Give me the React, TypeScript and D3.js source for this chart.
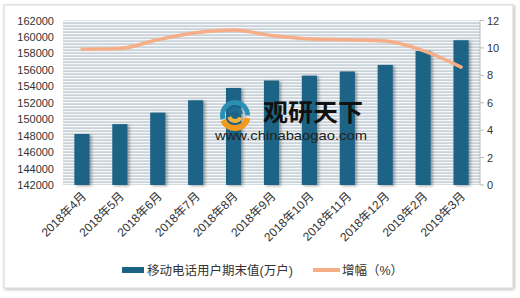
import React from "react";
import * as d3 from "d3";

const categories = ["2018年4月","2018年5月","2018年6月","2018年7月","2018年8月","2018年9月","2018年10月","2018年11月","2018年12月","2019年2月","2019年3月"];
const users = [148200, 149400, 150800, 152300, 153800, 154700, 155300, 155800, 156600, 158300, 159600];
const growth = [9.9, 9.95, 10.6, 11.1, 11.3, 10.9, 10.65, 10.6, 10.5, 9.8, 8.6];
const leftTicks = d3.range(142000, 162001, 2000);
const rightTicks = [0, 2, 4, 6, 8, 10, 12];

const W = 520, H = 298;
const plot = { l: 63, r: 480, t: 20.5, b: 185 };
const font = "'Liberation Sans', 'Noto Sans CJK SC', sans-serif";

export default function App() {
  const x = d3.scaleBand<string>().domain(categories).range([plot.l, plot.r]).paddingInner(0.6).paddingOuter(0.3);
  const y = d3.scaleLinear().domain([142000, 162000]).range([plot.b, plot.t]);
  const y2 = d3.scaleLinear().domain([0, 12]).range([plot.b, plot.t]);
  const line = d3.line<number>()
    .x((_, i) => (x(categories[i]) as number) + x.bandwidth() / 2)
    .y((d) => y2(d))
    .curve(d3.curveMonotoneX);
  const bw = x.bandwidth();
  const arc = d3.arc();
  const lc = { x: 235, y: 115 };

  return (
    <svg width={W} height={H} style={{ position: "absolute", left: 0, top: 0 }} fontFamily={font}>
      <defs>
        <pattern id="stripes" width="4" height="3" patternUnits="userSpaceOnUse">
          <rect width="4" height="3" fill="#f4f6f8" />
          <rect y="1.5" width="4" height="1.2" fill="#b9c4cc" />
        </pattern>
        <filter id="fshadow" x="-5%" y="-5%" width="110%" height="110%">
          <feDropShadow dx="1" dy="1" stdDeviation="1.5" floodColor="#000" floodOpacity="0.3" />
        </filter>
        <filter id="bshadow" x="-30%" y="-10%" width="170%" height="120%">
          <feDropShadow dx="2" dy="1" stdDeviation="1.5" floodColor="#000" floodOpacity="0.35" />
        </filter>
      </defs>
      <rect x={0} y={0} width={W} height={H} fill="#ffffff" />
      <rect x={4} y={5} width={509} height={283} fill="#ffffff" stroke="#d6d6d6" filter="url(#fshadow)" />
      <rect x={plot.l} y={plot.t} width={plot.r - plot.l} height={plot.b - plot.t} fill="url(#stripes)" />
      {users.map((v, i) => (
        <rect key={i} x={x(categories[i])} y={y(v)} width={bw} height={plot.b - y(v)} fill="#1b6385" filter="url(#bshadow)" />
      ))}
      <g>
        <g transform={`translate(${lc.x},${lc.y})`}>
          <path d={arc({ innerRadius: 10, outerRadius: 15, startAngle: -1.9, endAngle: 1.6 } as any) || ""} fill="#2a8fb5" />
          <path d={arc({ innerRadius: 4, outerRadius: 8, startAngle: -1.2, endAngle: 1.4 } as any) || ""} fill="#1d6f95" />
          <path d={arc({ innerRadius: 10, outerRadius: 16, startAngle: 1.8, endAngle: 4.3 } as any) || ""} fill="#f39a1e" />
          <path d={arc({ innerRadius: 4, outerRadius: 8, startAngle: 2.0, endAngle: 4.4 } as any) || ""} fill="#f0b23a" />
        </g>
        <text x={263} y={121} fontSize={24} fontWeight="bold" fill="#111" fontFamily="'Noto Sans CJK SC', sans-serif" textLength={100} lengthAdjust="spacingAndGlyphs">观研天下</text>
        <text x={215} y={140} fontSize={13} fill="#222" textLength={152} lengthAdjust="spacingAndGlyphs">www.chinabaogao.com</text>
      </g>
      <path d={line(growth) || ""} fill="none" stroke="#f6ae88" strokeWidth={3.5} strokeLinecap="round" />
      <line x1={plot.r} x2={plot.r} y1={plot.t} y2={plot.b} stroke="#bbbbbb" />
      {leftTicks.map((t) => (
        <text key={t} x={54} y={y(t) + 4} textAnchor="end" fontSize={11} fill="#333">{t}</text>
      ))}
      {rightTicks.map((t) => (
        <g key={t}>
          <line x1={plot.r} x2={plot.r + 4} y1={y2(t)} y2={y2(t)} stroke="#bbbbbb" />
          <text x={487} y={y2(t) + 4} fontSize={11} fill="#333">{t}</text>
        </g>
      ))}
      {categories.map((c) => {
        const cx = (x(c) as number) + bw / 2;
        return (
          <text key={c} transform={`translate(${cx + 5},${plot.b + 12}) rotate(-45)`} textAnchor="end" fontSize={12} fill="#333">{c}</text>
        );
      })}
      <rect x={99} y={258} width={234} height={23} fill="#ffffff" />
      <rect x={122} y={267} width={22} height={6} fill="#1b6385" />
      <text x={147} y={275} fontSize={12.5} fill="#333">移动电话用户期末值(万户)</text>
      <rect x={313} y={268} width={27} height={4} fill="#f6ae88" />
      <text x={342} y={275} fontSize={12.5} fill="#333">增幅（%）</text>
    </svg>
  );
}
